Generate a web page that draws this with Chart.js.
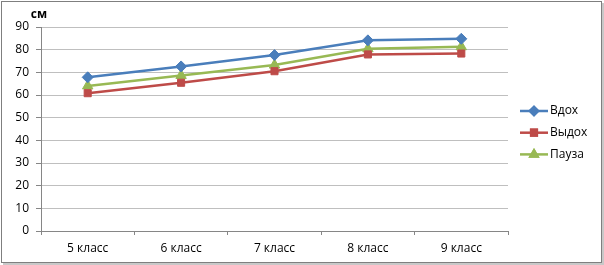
<!DOCTYPE html>
<html>
<head>
    <style>
        body { margin: 0; background: #fff; }
        #wrap { width: 604px; height: 265px; }
    </style>
    <script src="https://cdn.jsdelivr.net/npm/chart.js"></script>
</head>
<body>
    <div id="wrap"><canvas id="myChart" width="604" height="265"></canvas></div>
    <script>
        var labels = ['5 класс', '6 класс', '7 класс', '8 класс', '9 класс'];
        var vdoh = [67.8, 72.6, 77.6, 84.1, 84.8];
        var vydoh = [60.8, 65.4, 70.5, 77.9, 78.3];
        var pauza = [64.0, 68.6, 73.2, 80.4, 81.3];
        var seriesNames = ['Вдох', 'Выдох', 'Пауза'];
        var yTicks = [0, 10, 20, 30, 40, 50, 60, 70, 80, 90];

        var font = '"Open Sans", "Noto Sans", sans-serif';

        // frame, unit label and line+marker legend
        var extras = {
            id: 'extras',
            beforeDraw: function(chart) {
                var c = chart.ctx;
                c.save();
                c.fillStyle = '#fff';
                c.fillRect(0, 0, chart.width, chart.height);
                c.strokeStyle = '#c8c8c8';
                c.lineWidth = 2;
                c.beginPath();
                c.moveTo(603, 3); c.lineTo(603, 264); c.lineTo(3, 264);
                c.stroke();
                c.strokeStyle = '#7f7f7f';
                c.lineWidth = 1;
                c.strokeRect(1.5, 1.5, 600, 261);
                c.restore();
            },
            afterDraw: function(chart) {
                var c = chart.ctx;
                c.save();
                c.fillStyle = '#000';
                c.font = 'bold 12px ' + font;
                c.textAlign = 'center';
                c.textBaseline = 'middle';
                c.fillText('см', 39, 15);
                c.font = '12px ' + font;
                c.textAlign = 'left';
                chart.data.datasets.forEach(function(ds, i) {
                    var y = 111 + i * 21.7;
                    c.strokeStyle = ds.borderColor;
                    c.lineWidth = 2.5;
                    c.beginPath();
                    c.moveTo(520, y); c.lineTo(548, y);
                    c.stroke();
                    Chart.helpers.drawPoint(c, {
                        pointStyle: ds.pointStyle,
                        radius: 4,
                        rotation: 0,
                        borderWidth: 1
                    }, 534, y);
                    c.fillStyle = ds.borderColor;
                    c.strokeStyle = ds.borderColor;
                    Chart.helpers.drawPoint(c, {
                        pointStyle: ds.pointStyle,
                        radius: 4,
                        rotation: 0,
                        borderWidth: 1
                    }, 534, y);
                    c.fillStyle = '#000';
                    c.fillText(ds.label, 550, y);
                });
                c.restore();
            }
        };

        var ctx = document.getElementById('myChart').getContext('2d');
        var myChart = new Chart(ctx, {
            type: 'line',
            data: {
                labels: labels,
                datasets: [{
                    label: seriesNames[0],
                    data: vdoh,
                    borderColor: '#4a7ebb',
                    backgroundColor: '#4a7ebb',
                    pointStyle: 'rectRot',
                    pointRadius: 5.5
                }, {
                    label: seriesNames[1],
                    data: vydoh,
                    borderColor: '#be4b48',
                    backgroundColor: '#be4b48',
                    pointStyle: 'rect',
                    pointRadius: 5
                }, {
                    label: seriesNames[2],
                    data: pauza,
                    borderColor: '#98b954',
                    backgroundColor: '#98b954',
                    pointStyle: 'triangle',
                    pointRadius: 6
                }]
            },
            options: {
                responsive: false,
                animation: false,
                events: [],
                elements: {
                    line: { borderWidth: 2.5, tension: 0 },
                    point: { borderWidth: 1 }
                },
                layout: { padding: { left: 0, right: 96, top: 27, bottom: 0 } },
                plugins: {
                    legend: { display: false },
                    tooltip: { enabled: false }
                },
                scales: {
                    x: {
                        offset: true,
                        afterFit: function(s) { s.height = 34; },
                        grid: {
                            offset: true,
                            drawOnChartArea: false,
                            tickLength: 4,
                            color: '#868686'
                        },
                        border: { color: '#868686' },
                        ticks: { color: '#000', padding: 6, font: { family: font, size: 12 } }
                    },
                    y: {
                        min: 0,
                        max: 90,
                        afterFit: function(s) { s.width = 41; },
                        afterBuildTicks: function(s) {
                            s.ticks = yTicks.map(function(v) { return { value: v }; });
                        },
                        grid: { color: '#bfbfbf', tickLength: 5, tickColor: '#868686' },
                        border: { color: '#868686' },
                        ticks: { color: '#000', padding: 7, font: { family: font, size: 12 } }
                    }
                }
            },
            plugins: [extras]
        });
    </script>
</body>
</html>
